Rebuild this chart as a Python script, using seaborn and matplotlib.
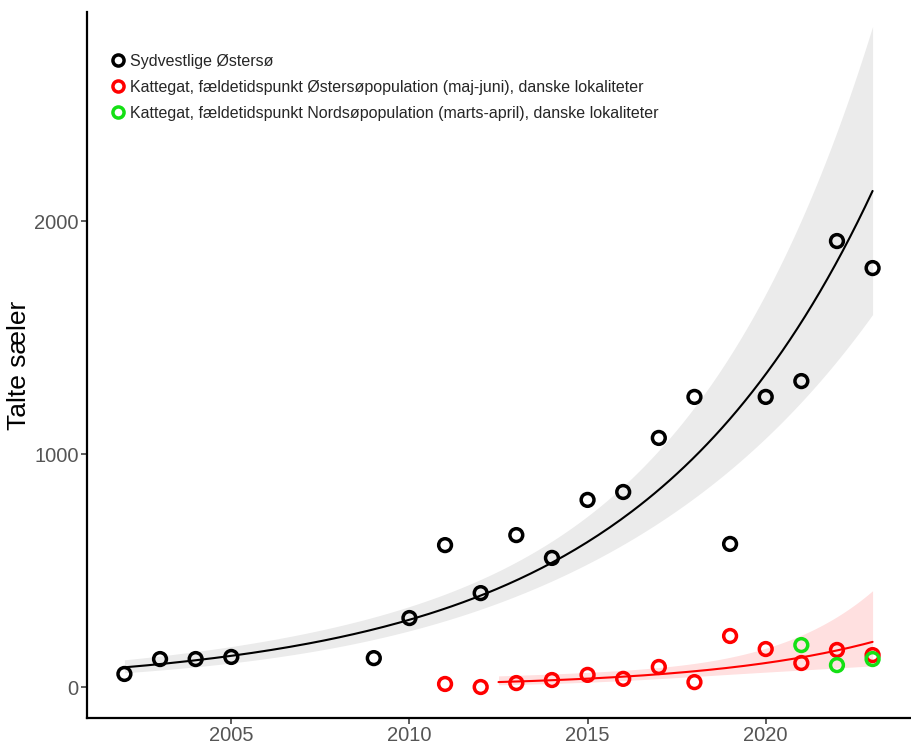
import math
import numpy as np
import matplotlib
matplotlib.use("Agg")
import matplotlib.pyplot as plt
from matplotlib.lines import Line2D
import seaborn as sns

# Talte sæler pr. år
years_sv = [2002, 2003, 2004, 2005, 2009, 2010, 2011, 2012, 2013, 2014,
            2015, 2016, 2017, 2018, 2019, 2020, 2021, 2022, 2023]
counts_sv = [56, 120, 120, 129, 124, 296, 609, 403, 652, 554,
             803, 837, 1069, 1245, 614, 1245, 1313, 1914, 1798]

years_kat_ost = [2011, 2012, 2013, 2014, 2015, 2016, 2017, 2018, 2019,
                 2020, 2021, 2022, 2023]
counts_kat_ost = [13, 0, 17, 30, 52, 35, 86, 21, 219, 163, 103, 159, 137]

years_kat_nord = [2021, 2022, 2023]
counts_kat_nord = [180, 94, 120]

series_labels = [
    "Sydvestlige Østersø",
    "Kattegat, fældetidspunkt Østersøpopulation (maj-juni), danske lokaliteter",
    "Kattegat, fældetidspunkt Nordsøpopulation (marts-april), danske lokaliteter",
]
series_colors = ["#000000", "#FF0000", "#14E014"]

x_ticks = [2005, 2010, 2015, 2020]
y_ticks = [0, 1000, 2000]


def t_quantile(p, df):
    """Quantile of Student's t distribution by numeric integration."""
    grid = np.linspace(0.0, 12.0, 40001)
    c = math.exp(math.lgamma((df + 1) / 2) - math.lgamma(df / 2)) / math.sqrt(df * math.pi)
    pdf = c * (1 + grid ** 2 / df) ** (-(df + 1) / 2)
    cdf = 0.5 + np.concatenate([[0.0], np.cumsum((pdf[1:] + pdf[:-1]) / 2 * np.diff(grid))])
    return float(np.interp(p, cdf, grid))


def loglinear_fit(x, y, x_new, level=0.95):
    """Linear model on log counts, back-transformed with its confidence band."""
    x = np.asarray(x, float)
    ly = np.log(np.asarray(y, float))
    xm = x.mean()
    X = np.column_stack([np.ones_like(x), x - xm])
    beta, *_ = np.linalg.lstsq(X, ly, rcond=None)
    resid = ly - X @ beta
    df = len(x) - 2
    cov = (resid @ resid / df) * np.linalg.inv(X.T @ X)
    Xn = np.column_stack([np.ones_like(x_new), x_new - xm])
    eta = Xn @ beta
    se = np.sqrt(np.einsum("ij,jk,ik->i", Xn, cov, Xn))
    t = t_quantile(0.5 + level / 2, df)
    return np.exp(eta), np.exp(eta - t * se), np.exp(eta + t * se)


# Trend for the south-western Baltic over the full period
xs_sv = np.linspace(min(years_sv), max(years_sv), 200)
fit_sv, lo_sv, hi_sv = loglinear_fit(years_sv, counts_sv, xs_sv)

# Trend for Kattegat (Baltic moulting period) from 2013 on
ost_y = np.array(years_kat_ost)
ost_c = np.array(counts_kat_ost)
keep = ost_y >= 2013
xs_ost = np.linspace(2012.5, max(years_kat_ost), 200)
fit_ost, lo_ost, hi_ost = loglinear_fit(ost_y[keep], ost_c[keep], xs_ost)

sns.set_theme(style="ticks")
plt.rcParams["font.family"] = ["Liberation Sans", "DejaVu Sans"]

fig = plt.figure(figsize=(9.12, 7.49), dpi=100)
ax = fig.add_axes([87 / 912, 31 / 749, 823 / 912, 706 / 749])

ax.fill_between(xs_sv, lo_sv, hi_sv, color="#EBEBEB", lw=0, zorder=1)
ax.fill_between(xs_ost, lo_ost, hi_ost, color="#FF0000", alpha=0.12, lw=0, zorder=1)
sns.lineplot(x=xs_sv, y=fit_sv, color="black", lw=1.5, ax=ax, zorder=2)
sns.lineplot(x=xs_ost, y=fit_ost, color="#FF0000", lw=1.5, ax=ax, zorder=2)

for xv, yv, col in [(years_sv, counts_sv, series_colors[0]),
                    (years_kat_ost, counts_kat_ost, series_colors[1]),
                    (years_kat_nord, counts_kat_nord, series_colors[2])]:
    sns.scatterplot(x=xv, y=yv, ax=ax, s=85, marker="o",
                    facecolors="none", edgecolor=col, linewidth=2.5, zorder=3)

# Axis ranges with a little padding around the data
x_lo, x_hi = min(years_sv), max(years_sv)
xpad = 0.05 * (x_hi - x_lo)
ax.set_xlim(x_lo - xpad, x_hi + xpad)
ax.set_ylim(-133, 2897)

ax.set_xticks(x_ticks)
ax.set_yticks(y_ticks)
ax.tick_params(axis="both", labelsize=14.5, labelcolor="#555555", colors="#333333",
               length=4, width=1.1, pad=2)
ax.tick_params(axis="both", labelcolor="#555555")
for side in ["top", "right"]:
    ax.spines[side].set_visible(False)
for side in ["left", "bottom"]:
    ax.spines[side].set_linewidth(1.6)
    ax.spines[side].set_color("black")

ax.set_xlabel("")
ax.set_ylabel("Talte sæler", fontsize=19, color="black")
ax.yaxis.set_label_coords(-0.068, 0.5)

handles = [Line2D([], [], ls="", marker="o", ms=8, mfc="none", mec=c, mew=2.5)
           for c in series_colors]
ax.legend(handles, series_labels, loc="upper left", bbox_to_anchor=(0.030, 0.941),
          frameon=False, fontsize=11.5, handlelength=0.8, handletextpad=0.35,
          labelspacing=0.7, borderaxespad=0, borderpad=0)

fig.savefig("out.png", dpi=100)
